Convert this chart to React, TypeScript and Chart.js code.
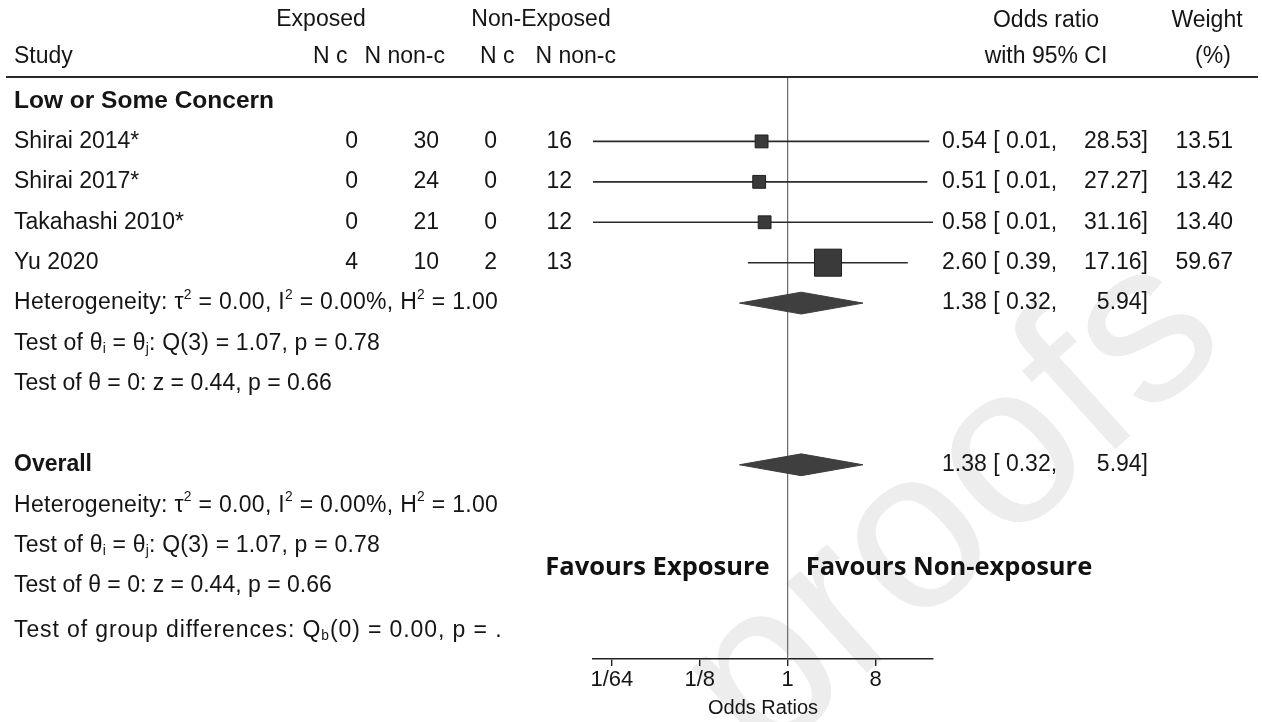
import { useEffect, useRef } from "react";
import { Chart, registerables } from "chart.js";

Chart.register(...registerables);

// ---- Study-level data ----
const studies = ["Shirai 2014*", "Shirai 2017*", "Takahashi 2010*", "Yu 2020"];
const exposedCases = [0, 0, 0, 4];
const exposedNonCases = [30, 24, 21, 10];
const nonExposedCases = [0, 0, 0, 2];
const nonExposedNonCases = [16, 12, 12, 13];
const oddsRatios = [0.54, 0.51, 0.58, 2.6];
const ciLower = [0.01, 0.01, 0.01, 0.39];
const ciUpper = [28.53, 27.27, 31.16, 17.16];
const weights = [13.51, 13.42, 13.4, 59.67];

// ---- Pooled estimates (subgroup and overall) ----
const pooledOR = [1.38, 1.38];
const pooledLower = [0.32, 0.32];
const pooledUpper = [5.94, 5.94];

// ---- Axis ----
const tickValues = [1 / 64, 1 / 8, 1, 8];
const tickLabels = ["1/64", "1/8", "1", "8"];

// ---- Text blocks ----
const subgroupName = "Low or Some Concern";
const statLines = [
  "Heterogeneity: τ^{2} = 0.00, I^{2} = 0.00%, H^{2} = 1.00",
  "Test of θ_{i} = θ_{j}: Q(3) = 1.07, p = 0.78",
  "Test of θ = 0: z = 0.44, p = 0.66",
];
const statSpacing = [0.3, 0.2, 0];
const groupDiffLine = "Test of group differences: Q_{b}(0) = 0.00, p = .";

// row indices on the vertical scale
const ROW_SUBGROUP = 0;
const ROW_FIRST_STUDY = 1;
const ROW_SUB_DIAMOND = 5;
const ROW_OVERALL = 9;
const ROW_GROUP_DIFF = 13.1;
const Y_MIN = -0.569;
const Y_MAX = 13.805;

const SANS = "'Liberation Sans', Arial, sans-serif";
const FS = 23;
const INK = "#151515";

function fmt(v: number) {
  return v.toFixed(2);
}

function drawRich(
  ctx: CanvasRenderingContext2D,
  str: string,
  x: number,
  y: number,
  size: number,
  spacing = 0
) {
  const re = /([_^])\{([^}]*)\}/g;
  const parts: { t: string; k: string }[] = [];
  let last = 0;
  let m: RegExpExecArray | null;
  while ((m = re.exec(str))) {
    parts.push({ t: str.slice(last, m.index), k: "" });
    parts.push({ t: m[2], k: m[1] });
    last = re.lastIndex;
  }
  parts.push({ t: str.slice(last), k: "" });
  let cx = x;
  ctx.textAlign = "left";
  (ctx as any).letterSpacing = `${spacing}px`;
  for (const p of parts) {
    const s = p.k ? size * 0.6 : size;
    const dy = p.k === "^" ? -size * 0.36 : p.k === "_" ? size * 0.26 : 0;
    ctx.font = `normal ${s}px ${SANS}`;
    ctx.fillText(p.t, cx, y + dy);
    cx += ctx.measureText(p.t).width;
  }
  (ctx as any).letterSpacing = "0px";
}

const forestText = {
  id: "forestText",
  beforeDraw(chart: any) {
    const ctx = chart.ctx as CanvasRenderingContext2D;
    ctx.save();
    ctx.fillStyle = "#fff";
    ctx.fillRect(0, 0, chart.width, chart.height);
    // faint diagonal watermark behind the plot
    ctx.translate(1232, 344);
    ctx.rotate((-42 * Math.PI) / 180);
    ctx.font = `228px ${SANS}`;
    ctx.fillStyle = "#ededed";
    ctx.textAlign = "right";
    ctx.textBaseline = "alphabetic";
    ctx.fillText("Journal Pre-proofs", 0, 0);
    ctx.restore();
  },
  afterDraw(chart: any) {
    const ctx = chart.ctx as CanvasRenderingContext2D;
    const y = chart.scales.y;
    const x = chart.scales.x;
    const py = (r: number) => y.getPixelForValue(r);
    ctx.save();
    ctx.fillStyle = INK;
    ctx.textBaseline = "middle";
    const put = (t: string, px: number, pyv: number, align: CanvasTextAlign, bold = false, size = FS) => {
      ctx.font = `${bold ? "bold" : "normal"} ${size}px ${SANS}`;
      ctx.textAlign = align;
      ctx.fillText(t, px, pyv);
    };

    // column headers
    put("Exposed", 321, 20, "center");
    put("Non-Exposed", 541, 20, "center");
    put("Odds ratio", 1046, 21, "center");
    put("Weight", 1207, 21, "center");
    put("Study", 14, 57, "left");
    put("N c", 313, 57, "left");
    put("N non-c", 445, 57, "right");
    put("N c", 480, 57, "left");
    put("N non-c", 616, 57, "right");
    put("with 95% CI", 1046, 57, "center");
    put("(%)", 1213, 57, "center");

    ctx.strokeStyle = "#2a2a2a";
    ctx.lineWidth = 2;
    ctx.beginPath();
    ctx.moveTo(6, 77);
    ctx.lineTo(1258, 77);
    ctx.stroke();

    // subgroup block
    put(subgroupName, 14, py(ROW_SUBGROUP), "left", true, 24.5);
    studies.forEach((s, i) => {
      const yy = py(ROW_FIRST_STUDY + i);
      put(s, 14, yy, "left");
      put(String(exposedCases[i]), 358, yy, "right");
      put(String(exposedNonCases[i]), 439, yy, "right");
      put(String(nonExposedCases[i]), 497, yy, "right");
      put(String(nonExposedNonCases[i]), 572, yy, "right");
      put(`${fmt(oddsRatios[i])} [ ${fmt(ciLower[i])},`, 942, yy, "left");
      put(`${fmt(ciUpper[i])}]`, 1148, yy, "right");
      put(fmt(weights[i]), 1233, yy, "right");
    });
    const pooledRows = [ROW_SUB_DIAMOND, ROW_OVERALL];
    pooledRows.forEach((r, k) => {
      const yy = py(r);
      put(`${fmt(pooledOR[k])} [ ${fmt(pooledLower[k])},`, 942, yy, "left");
      put(`${fmt(pooledUpper[k])}]`, 1148, yy, "right");
    });
    statLines.forEach((t, k) => drawRich(ctx, t, 14, py(ROW_SUB_DIAMOND + k), FS, statSpacing[k]));
    put("Overall", 14, py(ROW_OVERALL), "left", true);
    statLines.forEach((t, k) => drawRich(ctx, t, 14, py(ROW_OVERALL + 1 + k), FS, statSpacing[k]));
    drawRich(ctx, groupDiffLine, 14, py(ROW_GROUP_DIFF), FS, 0.9);

    // direction labels either side of the null line
    const x1 = x.getPixelForValue(1);
    ctx.fillStyle = "#111";
    ctx.font = `bold 25.5px 'Open Sans', sans-serif`;
    ctx.textAlign = "right";
    ctx.fillText("Favours Exposure", x1 - 18, 568);
    ctx.textAlign = "left";
    ctx.fillText("Favours Non-exposure", x1 + 18, 568);
    ctx.restore();
  },
};

export default function App() {
  const ref = useRef<HTMLCanvasElement | null>(null);
  useEffect(() => {
    if (!ref.current) return;
    const rows = studies.map((_, i) => ROW_FIRST_STUDY + i);

    const ciSets = studies.map((_, i) => ({
      type: "line" as const,
      data: [
        { x: ciLower[i], y: rows[i] },
        { x: ciUpper[i], y: rows[i] },
      ],
      borderColor: "#2b2b2b",
      borderWidth: 1.6,
      pointRadius: 0,
      order: 5,
    }));

    const diamondRows = [ROW_SUB_DIAMOND, ROW_OVERALL];
    const diamondSets = diamondRows.map((r, k) => ({
      type: "line" as const,
      data: [
        { x: pooledLower[k], y: r },
        { x: pooledOR[k], y: r - 0.27 },
        { x: pooledUpper[k], y: r },
        { x: pooledOR[k], y: r + 0.27 },
        { x: pooledLower[k], y: r },
      ],
      borderColor: "#3f3f3f",
      backgroundColor: "#3f3f3f",
      borderWidth: 1,
      pointRadius: 0,
      fill: "shape",
      tension: 0,
      order: 1,
    }));

    const squares = {
      type: "line" as const,
      data: oddsRatios.map((v, i) => ({ x: v, y: rows[i] })),
      showLine: false,
      pointStyle: "rect",
      pointRadius: weights.map((w) => (3.5 * Math.sqrt(w)) / Math.SQRT2),
      pointBackgroundColor: "#3a3a3a",
      pointBorderColor: "#1f1f1f",
      pointBorderWidth: 1,
      order: 1,
    };

    const refLine = {
      type: "line" as const,
      data: [
        { x: 1, y: Y_MIN },
        { x: 1, y: Y_MAX },
      ],
      borderColor: "#6a6a6a",
      borderWidth: 1.2,
      pointRadius: 0,
      order: 10,
    };

    const chart = new Chart(ref.current, {
      type: "line",
      data: { datasets: [squares, ...diamondSets, ...ciSets, refLine] as any },
      options: {
        animation: false,
        responsive: false,
        devicePixelRatio: 1,
        events: [],
        layout: { padding: { left: 593, right: 329, top: 78, bottom: 0 } },
        plugins: { legend: { display: false }, tooltip: { enabled: false } },
        scales: {
          x: {
            type: "logarithmic",
            position: "bottom",
            min: 0.01,
            max: 31.16,
            bounds: "data",
            afterBuildTicks: (s: any) => {
              s.ticks = tickValues.map((v) => ({ value: v }));
            },
            afterFit: (s: any) => {
              s.height = 63;
            },
            grid: {
              display: true,
              drawOnChartArea: false,
              drawTicks: true,
              tickLength: 7,
              color: "#222",
              tickColor: "#222",
              lineWidth: 1.4,
            },
            border: { display: true, color: "#222", width: 1.6 },
            ticks: {
              autoSkip: false,
              maxRotation: 0,
              padding: 1,
              color: INK,
              font: { family: SANS, size: 22 },
              callback: (_v: any, i: number) => tickLabels[i],
            },
            title: {
              display: true,
              text: "Odds Ratios",
              color: INK,
              font: { family: SANS, size: 20 },
              padding: { top: 0, bottom: 2 },
            },
          } as any,
          y: {
            type: "linear",
            reverse: true,
            min: Y_MIN,
            max: Y_MAX,
            display: false,
          },
        },
      },
      plugins: [forestText],
    });
    return () => chart.destroy();
  }, []);

  return (
    <div style={{ position: "fixed", left: 0, top: 0, width: 1262, height: 722, background: "#fff" }}>
      <canvas ref={ref} width={1262} height={722} style={{ display: "block" }} />
    </div>
  );
}
